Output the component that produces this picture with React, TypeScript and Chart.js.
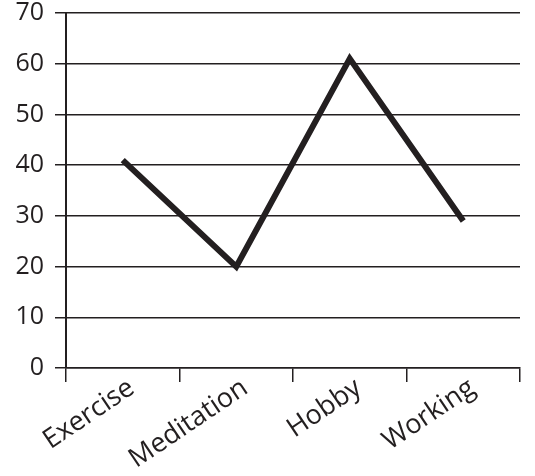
import React, { useEffect, useRef } from "react";
import { Chart, registerables } from "chart.js";

Chart.register(...registerables);

const categories = ["Exercise", "Meditation", "Hobby", "Working"];
const values = [41, 20, 61, 29];
const yTicks = [0, 10, 20, 30, 40, 50, 60, 70];

const INK = "#231f20";
const FONT = "'Open Sans', 'DejaVu Sans', sans-serif";

export default function App() {
  const ref = useRef<HTMLCanvasElement | null>(null);

  useEffect(() => {
    if (!ref.current) return;
    const chart = new Chart(ref.current, {
      type: "line",
      data: {
        labels: categories,
        datasets: [
          {
            data: values,
            borderColor: INK,
            borderWidth: 6,
            borderJoinStyle: "miter",
            borderCapStyle: "butt",
            pointRadius: 0,
            tension: 0,
            fill: false,
          },
        ],
      },
      options: {
        animation: false,
        responsive: false,
        maintainAspectRatio: false,
        layout: { padding: { top: 13, right: 15, left: 0, bottom: 0 } },
        plugins: { legend: { display: false }, tooltip: { enabled: false } },
        scales: {
          x: {
            type: "category",
            offset: true,
            grid: {
              offset: true,
              drawOnChartArea: false,
              drawTicks: true,
              tickLength: 14,
              color: INK,
              lineWidth: 1.5,
            },
            border: { display: true, color: INK, width: 1.5 },
            ticks: {
              color: INK,
              font: { family: FONT, size: 27 },
              minRotation: 34,
              maxRotation: 34,
              padding: -10,
              labelOffset: 9,
            },
            afterFit: (scale: any) => {
              scale.height = 108;
              scale.paddingLeft = 0;
              scale.paddingRight = 0;
            },
          },
          y: {
            min: 0,
            max: 70,
            afterBuildTicks: (scale: any) => {
              scale.ticks = yTicks.map((v) => ({ value: v }));
            },
            grid: {
              color: INK,
              lineWidth: 1.5,
              drawTicks: true,
              tickLength: 11,
            },
            border: { display: true, color: INK, width: 2 },
            ticks: {
              color: INK,
              font: { family: FONT, size: 25 },
              padding: 11,
            },
            afterFit: (scale: any) => {
              scale.width = 66;
              scale.paddingTop = 0;
              scale.paddingBottom = 0;
            },
          },
        },
      },
    });
    return () => chart.destroy();
  }, []);

  return (
    <div style={{ position: "fixed", left: 0, top: 0, width: 535, height: 476, background: "#fff" }}>
      <canvas ref={ref} width={535} height={476} style={{ width: 535, height: 476 }} />
    </div>
  );
}
